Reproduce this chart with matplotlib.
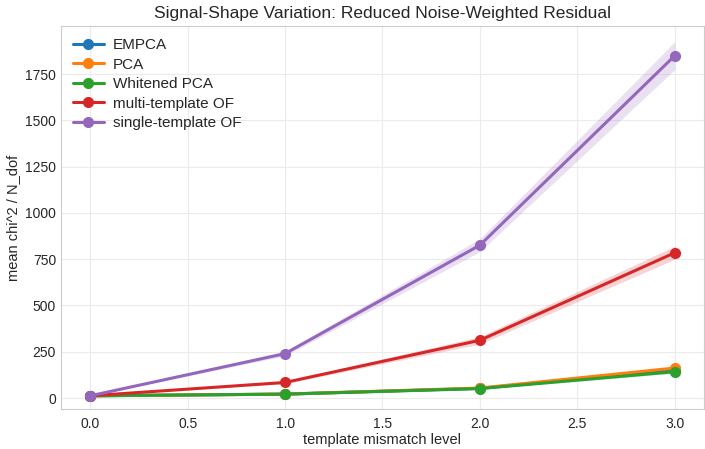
import numpy as np
import matplotlib
matplotlib.use("Agg")
import matplotlib.pyplot as plt
import seaborn as sns

sns.set_style("whitegrid")
plt.rcParams['font.family'] = ['Liberation Sans', 'DejaVu Sans']

# template mismatch levels
levels = [0.0, 1.0, 2.0, 3.0]

# mean chi^2 / N_dof per method
empca = [12, 21, 52, 152]
pca = [12, 21, 54, 162]
whitened = [12, 21, 51, 142]
multi_of = [12, 84, 312, 785]
single_of = [12, 240, 826, 1850]

# spread of each curve (shaded band half-width)
empca_err = [1, 2, 4, 8]
pca_err = [1, 2, 4, 8]
whitened_err = [1, 2, 4, 8]
multi_err = [1, 6, 20, 35]
single_err = [1, 12, 35, 75]

series = [
    ("EMPCA", empca, empca_err, "#1f77b4"),
    ("PCA", pca, pca_err, "#ff7f0e"),
    ("Whitened PCA", whitened, whitened_err, "#2ca02c"),
    ("multi-template OF", multi_of, multi_err, "#d62728"),
    ("single-template OF", single_of, single_err, "#9467bd"),
]

fig, ax = plt.subplots(figsize=(7.05, 4.49), dpi=100)

x = np.array(levels)
for name, vals, err, col in series:
    vals = np.array(vals, dtype=float)
    err = np.array(err, dtype=float)
    ax.fill_between(x, vals - err, vals + err, color=col, alpha=0.2, linewidth=0)
    ax.plot(x, vals, "-o", color=col, lw=2.2, ms=7, label=name)

ax.set_title("Signal-Shape Variation: Reduced Noise-Weighted Residual", fontsize=12.5, pad=6)
ax.set_xlabel("template mismatch level", fontsize=10.5, labelpad=1)
ax.set_ylabel("mean chi^2 / N_dof", fontsize=10.5, labelpad=4)
ax.tick_params(axis="x", labelsize=10, pad=2)
ax.tick_params(axis="y", labelsize=10, pad=0)
ax.set_xticks([0.0, 0.5, 1.0, 1.5, 2.0, 2.5, 3.0])
ax.set_xlim(-0.15, 3.15)
ax.set_ylim(-62, 2010)
ax.set_yticks([0, 250, 500, 750, 1000, 1250, 1500, 1750])
ax.grid(color="#ebebeb")
for s in ax.spines.values():
    s.set_edgecolor("#cccccc")
ax.legend(loc="upper left", fontsize=11, frameon=False, labelspacing=0.36,
          borderaxespad=0.4, handletextpad=0.6)

fig.subplots_adjust(left=0.0865, right=0.9986, bottom=0.088, top=0.942)
fig.savefig("out.png", dpi=100)
